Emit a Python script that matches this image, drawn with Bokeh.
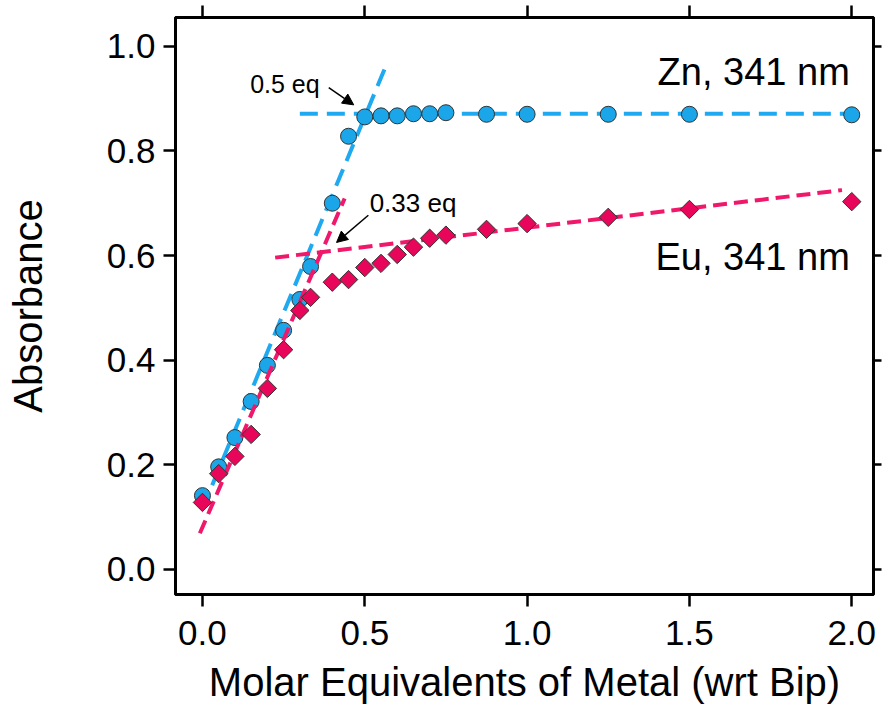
import numpy as np
from bokeh.plotting import figure
from bokeh.models import (ColumnDataSource, FixedTicker, LinearAxis, Label, Arrow,
                          NormalHead, PrintfTickFormatter, CustomLabelingPolicy)
from bokeh.embed import file_html
from bokeh.resources import INLINE

# ---------------- data ----------------
equiv = [0, 0.05, 0.1, 0.15, 0.2, 0.25, 0.3, 0.333, 0.4, 0.45, 0.5, 0.55, 0.6,
         0.65, 0.7, 0.75, 0.875, 1.0, 1.25, 1.5, 2.0]
zn_abs = [0.141, 0.196, 0.252, 0.321, 0.390, 0.457, 0.516, 0.579, 0.700, 0.828,
          0.865, 0.867, 0.867, 0.871, 0.871, 0.873, 0.870, 0.870, 0.870, 0.870, 0.869]
eu_abs = [0.128, 0.183, 0.216, 0.258, 0.346, 0.420, 0.495, 0.520, 0.549, 0.554,
          0.577, 0.585, 0.602, 0.616, 0.633, 0.639, 0.650, 0.661, 0.673, 0.688, 0.703]

# fitted lines (end points)
zn_steep_x = [0.03, 0.566]
zn_steep_y = [0.161, 0.964]
zn_flat_x = [0.30, 2.0]
zn_flat_y = [0.871, 0.871]
eu_steep_x = [-0.008, 0.438]
eu_steep_y = [0.069, 0.709]
eu_flat_x = [0.224, 1.97]
eu_flat_y = [0.596, 0.725]

x_ticks = [0.0, 0.5, 1.0, 1.5, 2.0]
y_ticks = [0.0, 0.2, 0.4, 0.6, 0.8, 1.0]

BLUE = "#1ba6ea"
BLUE_LINE = "#1fa9f0"
PINK = "#e8065a"
PINK_LINE = "#f0186a"
FONT = "Liberation Sans"

p = figure(width=885, height=708, output_backend="svg", toolbar_location=None,
           x_range=(-0.083, 2.067), y_range=(-0.048, 1.055),
           min_border_left=175, min_border_right=8, min_border_top=17,
           min_border_bottom=114)
p.grid.visible = False
p.outline_line_color = "black"
p.outline_line_width = 3
p.background_fill_color = "white"
p.border_fill_color = "white"

# axes
p.xaxis.ticker = FixedTicker(ticks=x_ticks)
p.yaxis.ticker = FixedTicker(ticks=y_ticks)
p.xaxis.formatter = PrintfTickFormatter(format="%.1f")
p.yaxis.formatter = PrintfTickFormatter(format="%.1f")
for ax in (p.xaxis[0], p.yaxis[0]):
    ax.major_tick_out = 12
    ax.major_tick_in = 0
    ax.minor_tick_out = 0
    ax.minor_tick_in = 0
    ax.major_tick_line_width = 2.5
    ax.axis_line_width = 3
    ax.major_label_text_font = FONT
    ax.major_label_text_font_size = "35px"
    ax.major_label_text_color = "black"
    ax.axis_label_text_font = FONT
    ax.axis_label_text_font_size = "40px"
    ax.axis_label_text_font_style = "normal"
    ax.axis_label_text_color = "black"
p.xaxis.axis_label = "Molar Equivalents of Metal (wrt Bip)"
p.yaxis.axis_label = "Absorbance"
p.xaxis.major_label_standoff = 14
p.yaxis.major_label_standoff = 8
p.xaxis.axis_label_standoff = 12
p.yaxis.axis_label_standoff = 54

for loc, ticks in (("right", y_ticks), ("above", x_ticks)):
    ax = LinearAxis(ticker=FixedTicker(ticks=ticks))
    ax.major_tick_out = 8 if loc == "right" else 12
    ax.major_tick_in = 0
    ax.minor_tick_out = 0
    ax.minor_tick_in = 0
    ax.major_tick_line_width = 2.5
    ax.axis_line_width = 3
    ax.major_label_text_font_size = "1px"
    ax.major_label_standoff = 0
    ax.major_label_policy = CustomLabelingPolicy(code="if (false) { yield 0 }")
    p.add_layout(ax, loc)

# fit lines and markers
p.line(zn_steep_x, zn_steep_y, line_color=BLUE_LINE, line_width=4, line_dash="18 9")
p.line(zn_flat_x, zn_flat_y, line_color=BLUE_LINE, line_width=4, line_dash="18 9")
src = ColumnDataSource(dict(x=equiv, zn=zn_abs, eu=eu_abs))
p.scatter("x", "zn", source=src, marker="circle", size=16, fill_color=BLUE,
          line_color="#333333", line_width=1)
p.line(eu_steep_x, eu_steep_y, line_color=PINK_LINE, line_width=4, line_dash="14 7")
p.line(eu_flat_x, eu_flat_y, line_color=PINK_LINE, line_width=4, line_dash="14 7")
p.scatter("x", "eu", source=src, marker="square", angle=np.pi / 4, size=13,
          fill_color=PINK, line_color="#333333", line_width=1)

# annotations
p.add_layout(Label(x=1.994, y=0.950, text="Zn, 341 nm", text_align="right",
                   text_baseline="middle", text_font=FONT, text_font_size="38px",
                   text_color="black"))
p.add_layout(Label(x=1.994, y=0.597, text="Eu, 341 nm", text_align="right",
                   text_baseline="middle", text_font=FONT, text_font_size="38px",
                   text_color="black"))
p.add_layout(Label(x=0.361, y=0.927, text="0.5 eq", text_align="right",
                   text_baseline="middle", text_font=FONT, text_font_size="25px",
                   text_color="black"))
p.add_layout(Label(x=0.515, y=0.700, text="0.33 eq", text_align="left",
                   text_baseline="middle", text_font=FONT, text_font_size="26px",
                   text_color="black"))
p.add_layout(Arrow(end=NormalHead(size=11, fill_color="black", line_color="black"),
                   x_start=0.389, y_start=0.921, x_end=0.466, y_end=0.888,
                   line_color="black", line_width=1.5))
p.add_layout(Arrow(end=NormalHead(size=11, fill_color="black", line_color="black"),
                   x_start=0.511, y_start=0.677, x_end=0.413, y_end=0.625,
                   line_color="black", line_width=1.5))

open("out.html", "w").write(file_html(p, INLINE))
